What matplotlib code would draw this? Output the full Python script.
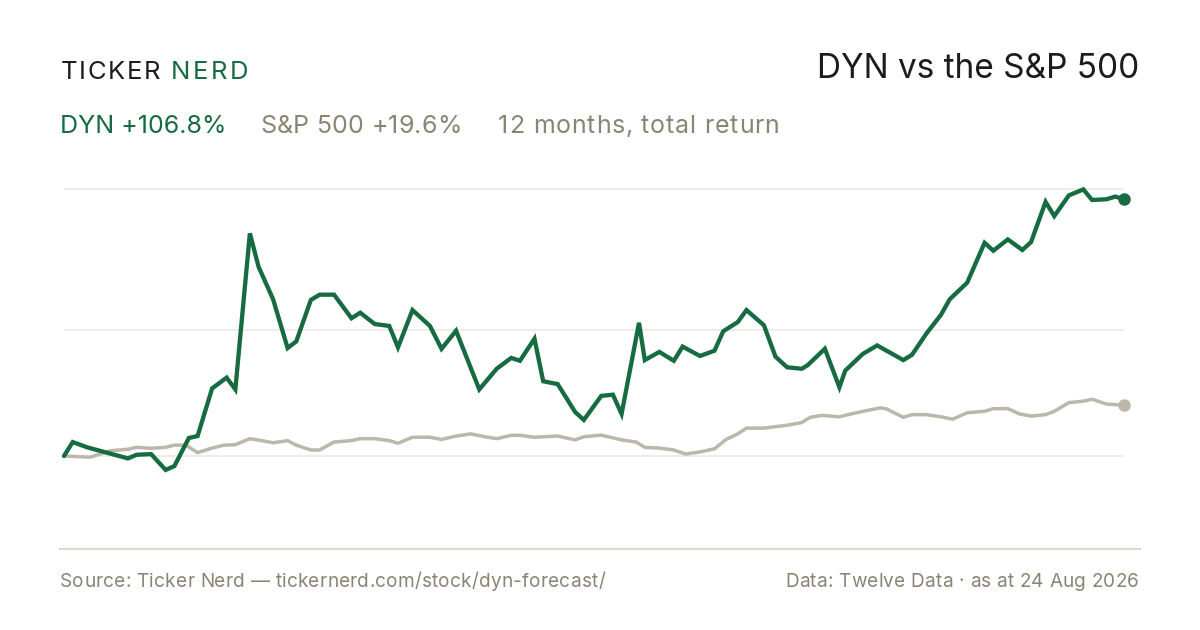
import matplotlib
matplotlib.use("Agg")
import matplotlib.pyplot as plt

# days since start (12 months) and total return in %
dyn_days = [0, 3, 8, 22, 25, 30, 35, 38, 43, 46, 51, 56, 59, 64, 67, 72, 77, 80, 85, 88,
            93, 99, 102, 107, 112, 115, 120, 126, 130, 135, 143, 149, 154, 157, 162, 165,
            170, 176, 179, 185, 189, 192, 198, 200, 205, 210, 213, 219, 224, 227, 232, 235,
            241, 245, 249, 254, 256, 262, 267, 269, 275, 280, 289, 292, 297, 302, 305, 311,
            317, 320, 325, 330, 333, 338, 341, 346, 351, 354, 359, 362, 365]
dyn_ret = [0.0, 5.8, 3.6, -1.0, 0.5, 0.8, -5.8, -4.2, 7.5, 8.3, 28.1, 32.6, 27.7, 92.6,
           78.7, 65.2, 44.9, 47.7, 64.9, 67.1, 67.1, 57.3, 59.6, 54.9, 54.1, 45.2, 60.7,
           54.1, 44.6, 52.1, 27.7, 36.3, 40.8, 39.6, 48.8, 31.1, 29.9, 18.3, 15.0, 25.0,
           25.5, 17.5, 55.4, 39.9, 43.3, 39.6, 45.5, 41.6, 43.8, 51.9, 55.7, 60.7, 54.4,
           41.3, 36.9, 36.3, 37.7, 44.6, 28.6, 35.5, 42.4, 46.0, 39.9, 42.1, 51.0, 58.8,
           65.2, 72.1, 88.7, 85.4, 90.1, 85.7, 89.0, 105.7, 99.8, 108.4, 110.9, 106.5,
           106.8, 107.9, 106.8]

spx_days = [0, 9, 16, 22, 25, 30, 35, 38, 42, 46, 51, 55, 59, 64, 68, 72, 77, 80, 85, 88,
            93, 99, 102, 107, 112, 115, 120, 126, 130, 135, 140, 145, 149, 154, 157, 162,
            170, 176, 179, 185, 192, 197, 200, 205, 210, 214, 219, 224, 228, 232, 235, 241,
            245, 249, 254, 257, 261, 267, 271, 276, 281, 283, 289, 292, 297, 302, 306, 311,
            317, 320, 325, 329, 333, 338, 341, 346, 351, 354, 359, 365]
spx_ret = [0.0, -0.5, 2.2, 2.8, 3.6, 3.2, 3.6, 4.5, 4.5, 1.4, 3.3, 4.5, 4.7, 7.2, 6.4,
           5.5, 6.4, 4.5, 2.5, 2.5, 5.8, 6.4, 7.2, 7.2, 6.4, 5.3, 7.8, 7.8, 6.9, 8.3, 9.2,
           8.0, 7.2, 8.6, 8.6, 7.8, 8.3, 6.7, 8.0, 8.7, 6.7, 5.8, 3.6, 3.3, 2.5, 0.8, 1.7,
           3.0, 6.9, 9.2, 11.6, 11.6, 12.2, 12.8, 13.9, 16.1, 16.9, 16.3, 17.5, 18.8, 20.0,
           19.7, 16.1, 17.2, 17.2, 16.3, 15.3, 18.0, 18.6, 19.7, 19.7, 17.5, 16.6, 17.2,
           18.6, 22.2, 22.8, 23.6, 21.6, 21.1]

grid_levels = [0, 52.5, 111]

dyn_label = "DYN +106.8%"
spx_label = "S&P 500 +19.6%"
period_label = "12 months, total return"
title = "DYN vs the S&P 500"
source = "Source: Ticker Nerd \u2014 tickernerd.com/stock/dyn-forecast/"
data_note = "Data: Twelve Data \u00b7 as at 24 Aug 2026"

GREEN = "#176b40"
GREY_LINE = "#bdb6aa"
GREY_TEXT = "#8a8474"
INK = "#1c1c1a"
GRID = "#ece9e3"
RULE = "#dcd8cc"

plt.rcParams["font.family"] = ["Inter", "DejaVu Sans"]

W, H = 1200, 630
fig = plt.figure(figsize=(W / 100, H / 100), dpi=100)
fig.patch.set_facecolor("white")


def px(x, y):
    return x / W, 1 - y / H


# plot area: x 64..1124 px, 0% at y=456 px, 2.404 px per %
k = 2.404
y_top, y_bot = 170, 500
ax = fig.add_axes([64 / W, 1 - y_bot / H, 1060 / W, (y_bot - y_top) / H])
ax.set_xlim(0, 365)
ax.set_ylim((456 - y_bot) / k, (456 - y_top) / k)
for s in ax.spines.values():
    s.set_visible(False)
ax.set_xticks([])
ax.set_yticks([])
for g in grid_levels:
    ax.axhline(g, color=GRID, lw=1.2, zorder=0)

ax.plot(spx_days, spx_ret, color=GREY_LINE, lw=2.5, solid_joinstyle="round",
        solid_capstyle="round", zorder=2, clip_on=False)
ax.plot(spx_days[-1], spx_ret[-1], "o", color=GREY_LINE, ms=8, zorder=3, clip_on=False)
ax.plot(dyn_days, dyn_ret, color=GREEN, lw=3.1, solid_joinstyle="miter",
        solid_capstyle="round", zorder=4, clip_on=False)
ax.plot(dyn_days[-1], dyn_ret[-1], "o", color=GREEN, ms=8, zorder=5, clip_on=False)

renderer = fig.canvas.get_renderer()


def spaced(text, x0, x1, y, color, size):
    # place letters one by one so the text runs from x0 to x1 (pixels)
    arts, widths = [], []
    for ch in text:
        t = fig.text(0, 0, ch, fontsize=size, color=color, va="baseline", ha="left")
        widths.append(t.get_window_extent(renderer).width)
        arts.append(t)
    # spaces have no ink width, so measure the whole string instead
    whole = fig.text(0, 0, text, fontsize=size, va="baseline")
    natural = whole.get_window_extent(renderer).width
    whole.remove()
    adv = []
    for i, ch in enumerate(text):
        tmp = fig.text(0, 0, text[: i + 1], fontsize=size, va="baseline")
        adv.append(tmp.get_window_extent(renderer).width)
        tmp.remove()
    gap = (x1 - x0 - natural) / max(len(text) - 1, 1)
    for i, t in enumerate(arts):
        start = adv[i] - widths[i] if widths[i] > 0 else adv[i]
        t.set_position(px(x0 + start + i * gap, y))


# header
spaced("TICKER", 60.5, 160.5, 79.3, INK, 18.5)
spaced("NERD", 170.5, 248.5, 79.3, GREEN, 18.5)
fig.text(*px(1139, 78.5), title, fontsize=24, color=INK, ha="right", va="baseline")

fig.text(*px(60, 133), dyn_label, fontsize=18, color=GREEN, ha="left", va="baseline")
spaced(spx_label, 260, 462, 133, GREY_TEXT, 18)
spaced(period_label, 498, 779, 133, GREY_TEXT, 18)

# footer
fig.add_artist(plt.Line2D([60 / W, 1140 / W], [1 - 549 / H, 1 - 549 / H],
                          color=RULE, lw=1.5, transform=fig.transFigure))
spaced(source, 60, 605, 587, GREY_TEXT, 13.7)
spaced(data_note, 785, 1139, 587, GREY_TEXT, 13.7)

fig.savefig("out.png", dpi=100, facecolor="white")
